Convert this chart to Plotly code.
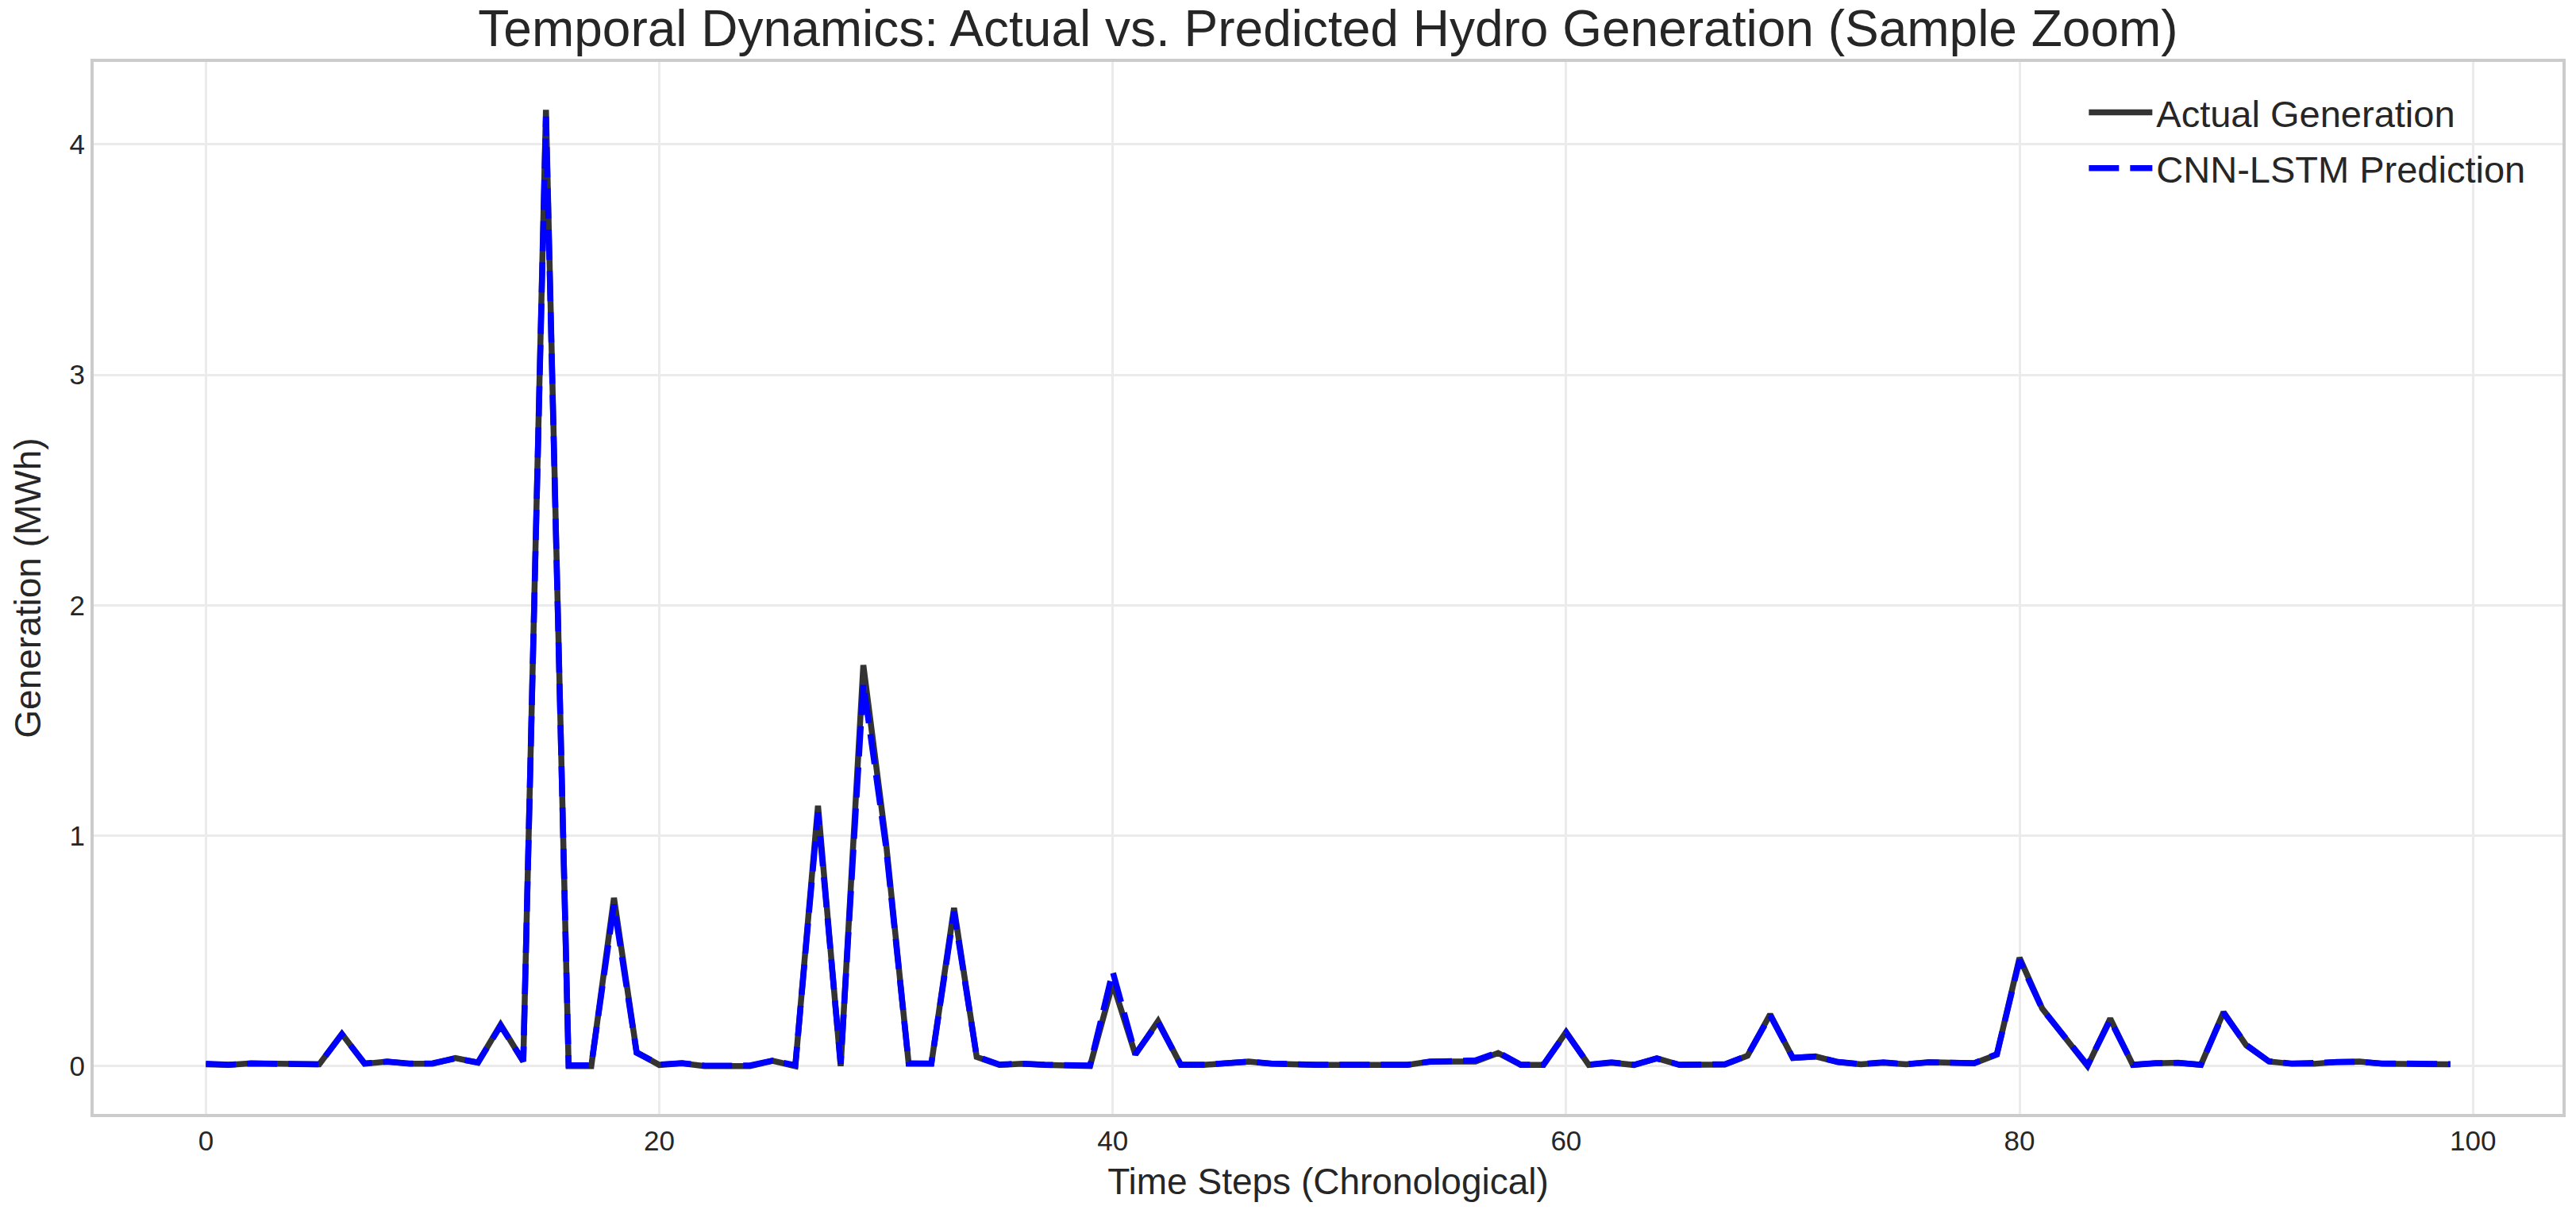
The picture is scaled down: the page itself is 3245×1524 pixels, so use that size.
import plotly.graph_objects as go

time_steps = list(range(100))

actual_generation = [
    0.008, 0.005, 0.012, 0.012, 0.010, 0.008, 0.140, 0.010, 0.020, 0.010,
    0.010, 0.035, 0.015, 0.180, 0.020, 4.150, 0.000, 0.000, 0.730, 0.060,
    0.005, 0.012, 0.000, 0.000, 0.000, 0.023, 0.000, 1.130, 0.000, 1.740,
    0.970, 0.010, 0.010, 0.686, 0.040, 0.005, 0.010, 0.005, 0.000, 0.000,
    0.360, 0.050, 0.195, 0.005, 0.005, 0.010, 0.020, 0.010, 0.005, 0.005,
    0.005, 0.005, 0.007, 0.005, 0.020, 0.020, 0.020, 0.057, 0.005, 0.005,
    0.148, 0.005, 0.015, 0.005, 0.034, 0.005, 0.005, 0.007, 0.045, 0.225,
    0.035, 0.042, 0.017, 0.008, 0.015, 0.008, 0.017, 0.012, 0.012, 0.050,
    0.470, 0.250, 0.125, 0.000, 0.206, 0.005, 0.012, 0.015, 0.005, 0.234,
    0.090, 0.020, 0.010, 0.010, 0.018, 0.020, 0.010, 0.010, 0.010, 0.008,
]

predicted_generation = [
    0.010, 0.006, 0.011, 0.013, 0.009, 0.008, 0.138, 0.012, 0.019, 0.011,
    0.012, 0.033, 0.016, 0.175, 0.022, 4.120, 0.004, 0.003, 0.700, 0.058,
    0.007, 0.013, 0.002, 0.002, 0.003, 0.024, 0.004, 1.100, 0.010, 1.660,
    0.950, 0.012, 0.011, 0.670, 0.041, 0.007, 0.011, 0.006, 0.002, 0.003,
    0.410, 0.052, 0.190, 0.006, 0.006, 0.011, 0.019, 0.011, 0.006, 0.006,
    0.006, 0.006, 0.008, 0.006, 0.019, 0.021, 0.025, 0.060, 0.006, 0.006,
    0.145, 0.006, 0.016, 0.006, 0.033, 0.006, 0.006, 0.008, 0.046, 0.220,
    0.036, 0.041, 0.018, 0.009, 0.016, 0.009, 0.016, 0.013, 0.013, 0.052,
    0.460, 0.248, 0.124, 0.004, 0.200, 0.006, 0.013, 0.014, 0.006, 0.230,
    0.092, 0.021, 0.011, 0.011, 0.017, 0.019, 0.011, 0.011, 0.011, 0.009,
]

x_tick_values = [0, 20, 40, 60, 80, 100]
y_tick_values = [0, 1, 2, 3, 4]

FONT = "Liberation Sans, Arial, sans-serif"
TEXT = "#262626"

fig = go.Figure()
fig.add_trace(go.Scatter(
    x=time_steps, y=actual_generation, mode="lines",
    name="Actual Generation", legendgroup="actual",
    line=dict(color="#333333", width=7.5),
))
fig.add_trace(go.Scatter(
    x=time_steps, y=predicted_generation, mode="lines",
    name="CNN-LSTM Prediction", legendgroup="pred",
    line=dict(color="#0000ff", width=7.5, dash="38px,14px"),
))

fig.update_layout(
    width=3245, height=1524,
    margin=dict(l=118, r=17, t=78, b=121, autoexpand=False),
    paper_bgcolor="white", plot_bgcolor="white",
    font=dict(family=FONT, color=TEXT),
    title=dict(
        text="Temporal Dynamics: Actual vs. Predicted Hydro Generation (Sample Zoom)",
        font=dict(size=64, color=TEXT, family=FONT),
        x=(118 + (3245 - 118 - 17) / 2) / 3245, xanchor="center",
        y=1 - 36 / 1524, yanchor="middle",
    ),
    legend=dict(
        x=0.9866, xanchor="right", y=0.98, yanchor="top",
        bgcolor="rgba(0,0,0,0)", borderwidth=0,
        font=dict(size=47, color=TEXT, family=FONT),
        itemwidth=80, tracegroupgap=6,
    ),
    showlegend=True,
)

fig.update_xaxes(
    range=[-4.95, 103.95], tickvals=x_tick_values,
    showgrid=True, gridcolor="#ebebeb", gridwidth=2.5,
    zeroline=False, showline=True, mirror=True,
    linecolor="#cccccc", linewidth=4, ticks="",
    tickfont=dict(size=35, color=TEXT, family=FONT),
    title=dict(text="Time Steps (Chronological)", standoff=18,
               font=dict(size=46, color=TEXT, family=FONT)),
)
fig.update_yaxes(
    range=[-0.2075, 4.3575], tickvals=y_tick_values,
    showgrid=True, gridcolor="#ebebeb", gridwidth=2.5,
    zeroline=False, showline=True, mirror=True,
    linecolor="#cccccc", linewidth=4, ticks="",
    tickfont=dict(size=35, color=TEXT, family=FONT),
    title=dict(text="Generation (MWh)", standoff=22,
               font=dict(size=46, color=TEXT, family=FONT)),
)

fig.write_html(
    "out.html",
    config={"displayModeBar": False},
    post_script="document.body.style.margin='0';document.body.style.overflow='hidden';",
)
